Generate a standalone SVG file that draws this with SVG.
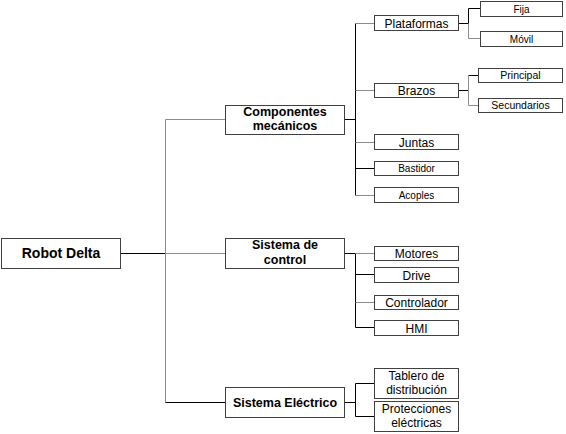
<svg xmlns="http://www.w3.org/2000/svg" width="566" height="434" viewBox="0 0 566 434">
<style>
rect{fill:#fff;stroke:#404040;stroke-width:1}
text{font-family:"Liberation Sans",Arial,sans-serif;fill:#000;text-anchor:middle}
.r{font-size:14px;font-weight:bold}
.m{font-size:12.5px;font-weight:bold}
.l{font-size:12px}
.s{font-size:10px}
.s2{font-size:10.5px}
#connectors path{fill:none;stroke-width:1}
.k{stroke:#000}
.g{stroke:#8c8c8c}
</style>
<rect x="0" y="0" width="566" height="434" style="fill:#fff;stroke:none"/>
<g id="connectors">
<path class="k" d="M120 253.5H165.5"/>
<path class="g" d="M165.5 119.5V402.5M165.5 119.5H225M165.5 253.5H225"/>
<path class="k" d="M165.5 402.5H225"/>
<path class="k" d="M344 119.5H355.5M355.5 23.5V195.5"/>
<path class="g" d="M355.5 23.5H374M355.5 90.5H374M355.5 142.5H374M355.5 195.5H374"/>
<path class="k" d="M355.5 168.5H374"/>
<path class="k" d="M458 23.5H468.5M468.5 8.5V23.5M468.5 8.5H480"/>
<path class="g" d="M468.5 23.5V38.5H480"/>
<path class="k" d="M458 90.5H468.5M468.5 75.5H478"/>
<path class="g" d="M468.5 75.5V105.5H478"/>
<path class="k" d="M344 253.5H355.5M355.5 253.5V327.5M355.5 274.5H374M355.5 327.5H374"/>
<path class="g" d="M355.5 253.5H374M355.5 302.5H374"/>
<path class="k" d="M344 402.5H355.5M355.5 383.5V416.5M355.5 383.5H374M355.5 416.5H374"/>
</g>
<g id="robot-delta"><rect x="1.5" y="238.5" width="119" height="30"/><text class="r" x="61" y="258">Robot Delta</text></g>
<g id="componentes-mecanicos"><rect x="225.5" y="105.5" width="119" height="29"/><text class="m" x="285" y="116">Componentes</text><text class="m" x="285" y="130">mecánicos</text></g>
<g id="sistema-de-control"><rect x="225.5" y="238.5" width="119" height="30"/><text class="m" x="285" y="249">Sistema de</text><text class="m" x="285" y="264">control</text></g>
<g id="sistema-electrico"><rect x="225.5" y="387.5" width="119" height="30"/><text class="m" x="285" y="407">Sistema Eléctrico</text></g>
<g id="plataformas"><rect x="374.5" y="15.5" width="84" height="15"/><text class="l" x="416.5" y="27.5">Plataformas</text></g>
<g id="brazos"><rect x="374.5" y="83.5" width="84" height="14"/><text class="l" x="416.5" y="95">Brazos</text></g>
<g id="juntas"><rect x="374.5" y="134.5" width="84" height="15"/><text class="l" x="416.5" y="146.5">Juntas</text></g>
<g id="bastidor"><rect x="374.5" y="161.5" width="84" height="14"/><text class="s" x="416.5" y="172">Bastidor</text></g>
<g id="acoples"><rect x="374.5" y="187.5" width="84" height="15"/><text class="s" x="416.5" y="199">Acoples</text></g>
<g id="motores"><rect x="374.5" y="246.5" width="84" height="14"/><text class="l" x="416.5" y="258">Motores</text></g>
<g id="drive"><rect x="374.5" y="267.5" width="84" height="15"/><text class="l" x="416.5" y="279.5">Drive</text></g>
<g id="controlador"><rect x="374.5" y="295.5" width="84" height="14"/><text class="l" x="416.5" y="307">Controlador</text></g>
<g id="hmi"><rect x="374.5" y="320.5" width="84" height="15"/><text class="l" x="416.5" y="332.5">HMI</text></g>
<g id="tablero"><rect x="374.5" y="368.5" width="84" height="30"/><text class="l" x="416.5" y="380">Tablero de</text><text class="l" x="416.5" y="394">distribución</text></g>
<g id="protecciones"><rect x="374.5" y="401.5" width="84" height="30"/><text class="l" x="416.5" y="413">Protecciones</text><text class="l" x="416.5" y="427">eléctricas</text></g>
<g id="fija"><rect x="480.5" y="1.5" width="82" height="15"/><text class="s" x="521.5" y="12.5">Fija</text></g>
<g id="movil"><rect x="480.5" y="31.5" width="82" height="15"/><text class="s" x="521.5" y="42.5">Móvil</text></g>
<g id="principal"><rect x="478.5" y="68.5" width="84" height="14"/><text class="s2" x="520.5" y="79">Principal</text></g>
<g id="secundarios"><rect x="478.5" y="98.5" width="84" height="14"/><text class="s2" x="520.5" y="109">Secundarios</text></g>
</svg>
